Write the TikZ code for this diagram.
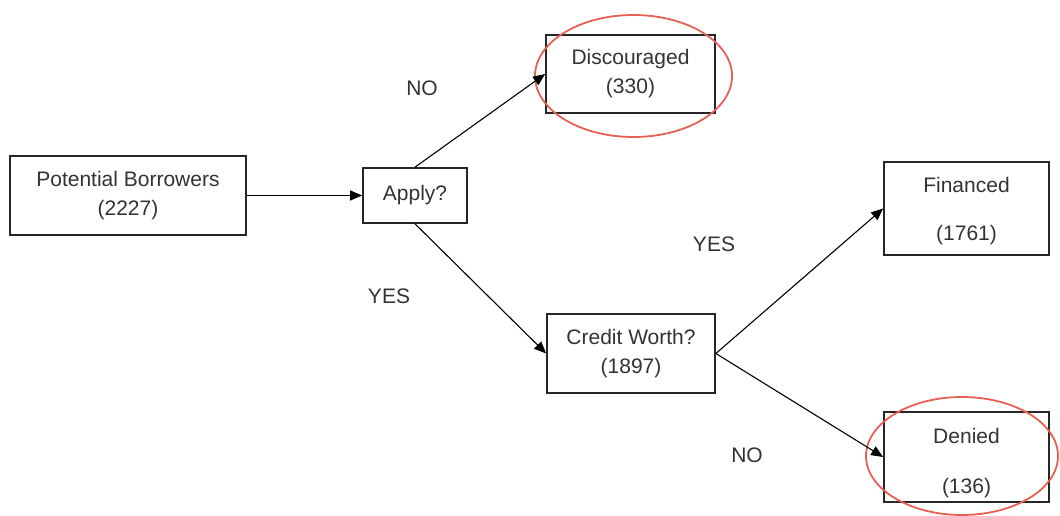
\documentclass[tikz,border=0pt]{standalone}
\usepackage{fontspec}
\setmainfont{Liberation Sans}
\usetikzlibrary{arrows.meta,shapes.geometric}
\begin{document}
\begin{tikzpicture}[x=1pt,y=-1pt,
  every node/.style={font=\fontsize{21}{29}\selectfont, text=black!80},
  box/.style={draw=black!85, line width=1.7pt, rectangle, align=center, inner sep=0pt},
  txt/.style={align=center, inner sep=0pt},
  arr/.style={draw=black, line width=1.1pt, -{Triangle[length=12pt,width=10pt]}},
  ring/.style={draw={rgb,255:red,231;green,96;blue,84}, line width=1.8pt, ellipse, inner sep=0pt},
  lbl/.style={inner sep=0pt}]
\useasboundingbox (0,0) rectangle (1060,516);
\fill[white] (0,0) rectangle (1060,516);
\node[box, minimum width=236pt, minimum height=79pt] (pb) at (128,195.5) {Potential Borrowers\\(2227)};
\node[box, minimum width=104pt, minimum height=55pt] (apply) at (415,195.5) {Apply?};
\node[box, minimum width=169pt, minimum height=78pt] (disc) at (630.5,74) {Discouraged\\(330)};
\node[box, minimum width=168pt, minimum height=79pt] (credit) at (631,353.5) {Credit Worth?\\(1897)};
\node[box, minimum width=165pt, minimum height=93pt] (fin) at (966.5,208.5) {};
\node[txt] (fint) at ([yshift=-3pt]fin.center) {Financed\\[19pt](1761)};
\node[box, minimum width=165pt, minimum height=90pt] (den) at (966.5,457) {};
\node[txt] (dent) at ([yshift=-6pt]den.center) {Denied\\[21pt](136)};
\node[ring, minimum width=197pt, minimum height=122pt] (ring1) at (633.5,76) {};
\node[ring, minimum width=192pt, minimum height=118pt] (ring2) at (962,456) {};
\draw[arr] (pb.east) -- (apply.west);
\draw[arr] (apply.north) -- (disc.west);
\draw[arr] (apply.south) -- (credit.west);
\draw[arr] (credit.east) -- (fin.west);
\draw[arr] (credit.east) -- (den.west);
\node[lbl] (no1) at (422,88) {NO};
\node[lbl] (yes1) at (389,296) {YES};
\node[lbl] (yes2) at (714,244) {YES};
\node[lbl] (no2) at (747,455) {NO};
\end{tikzpicture}
\end{document}
